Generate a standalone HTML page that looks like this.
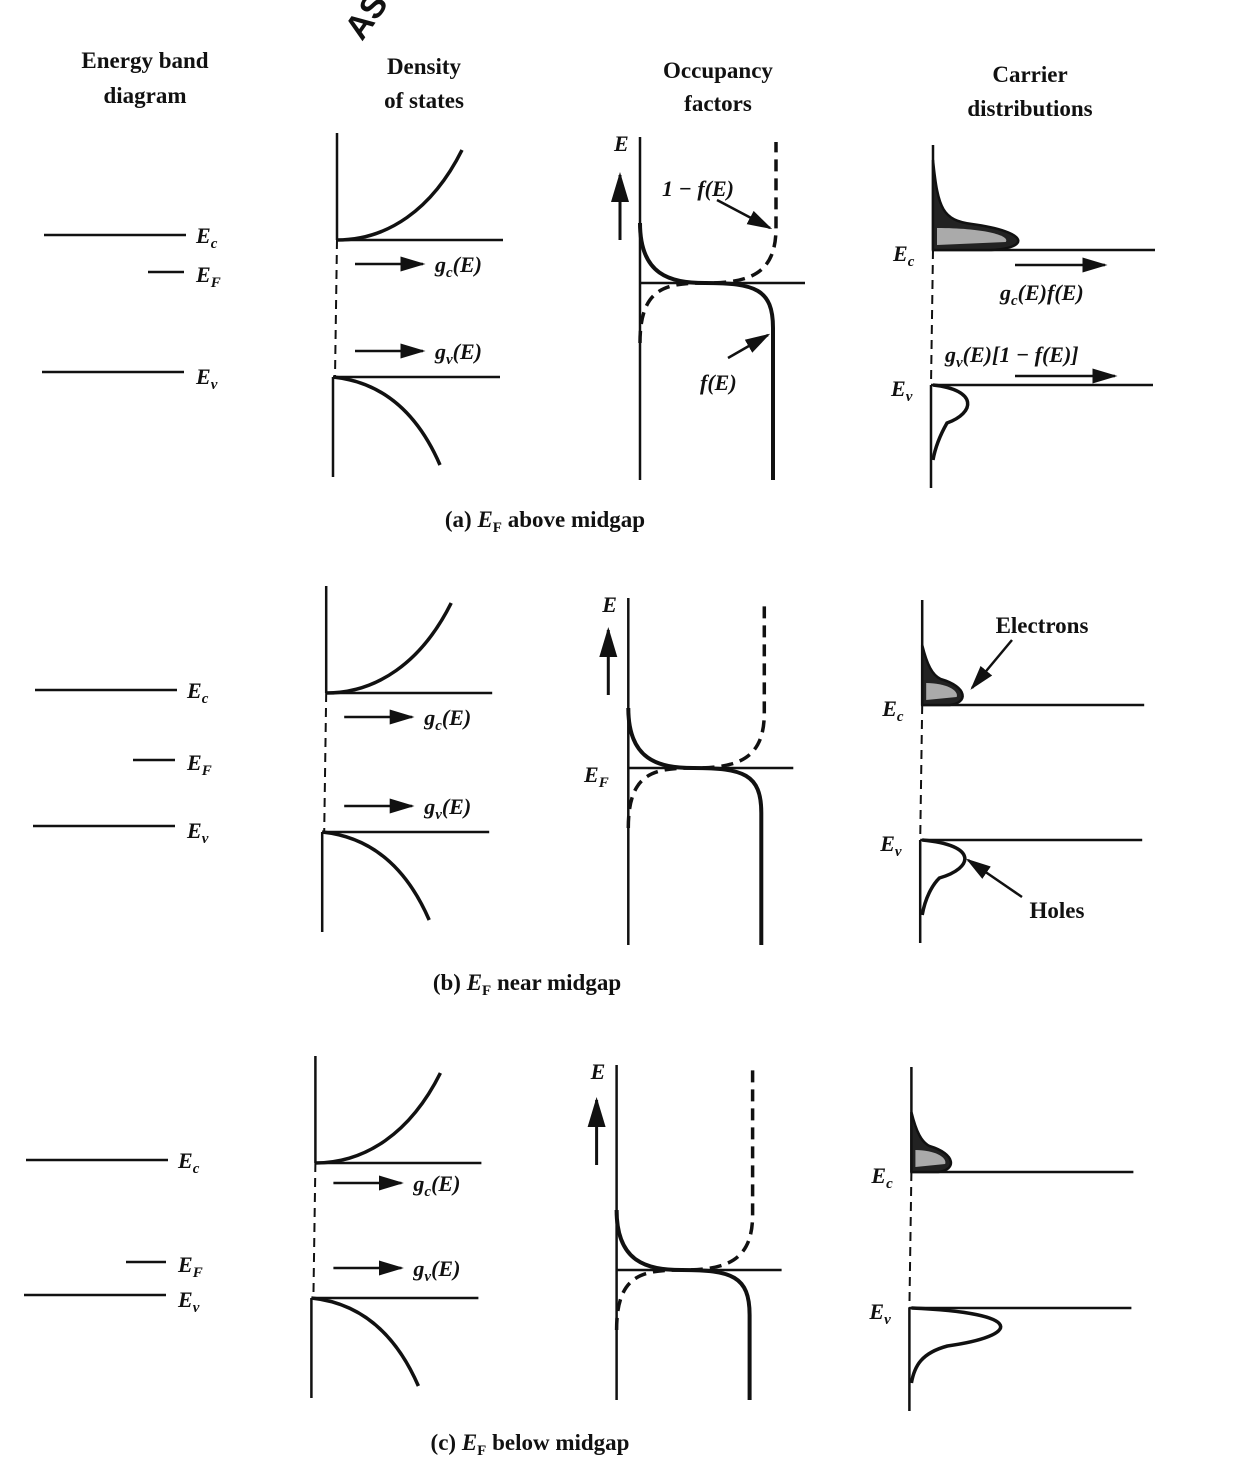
<!DOCTYPE html>
<html><head><meta charset="utf-8"><style>
html,body{margin:0;padding:0;background:#fff;}
svg{display:block;}
text{font-family:"Liberation Serif",serif;fill:#111;}
.h{font-size:23px;text-anchor:middle;font-weight:bold;}
.lb{font-size:22px;font-style:italic;font-weight:bold;}
.cap{font-size:23px;text-anchor:middle;font-weight:bold;}
</style></head><body>
<svg id="fig" width="1260" height="1474" viewBox="0 0 1260 1474" xmlns="http://www.w3.org/2000/svg">
<defs><marker id="ah" markerWidth="10" markerHeight="8" refX="9" refY="4" orient="auto"><path d="M0,1 L10,4 L0,7 Z" fill="#111"/></marker></defs>
<text x="0" y="0" transform="translate(362,42) rotate(-55)" style="font-size:34px;font-family:'Liberation Sans',sans-serif;font-weight:bold">AS</text>
<text class="h" x="145" y="68">Energy band</text>
<text class="h" x="145" y="103">diagram</text>
<text class="h" x="424" y="74">Density</text>
<text class="h" x="424" y="108">of states</text>
<text class="h" x="718" y="78">Occupancy</text>
<text class="h" x="718" y="111">factors</text>
<text class="h" x="1030" y="82">Carrier</text>
<text class="h" x="1030" y="116">distributions</text>
<g id="panels"></g>
</svg>
<script>
// panel data: vertical positions of levels (pixel y) for each panel
const panelNames = ["a","b","c"];
const captions = ["(a) E_F above midgap","(b) E_F near midgap","(c) E_F below midgap"];
const bandEc = [235,690,1160];
const bandEF = [272,760,1262];
const bandEv = [372,826,1295];
const dosEc = [240,693,1163];
const dosEv = [377,832,1298];
const occEF = [283,768,1270];
const occTop = [137,598,1065];
const occBottom = [480,945,1400];
const carEc = [250,705,1172];
const carEv = [385,840,1308];
const elecPeak = [97,46,45];   // electron distribution width
const holePeak = [35,43,90];   // hole distribution width
const NS="http://www.w3.org/2000/svg";
const G=document.getElementById('panels');
function el(tag,attrs,parent){const e=document.createElementNS(NS,tag);for(const k in attrs)e.setAttribute(k,attrs[k]);(parent||G).appendChild(e);return e;}
function line(x1,y1,x2,y2,w,dash,p){const e=el('line',{x1,y1,x2,y2,stroke:'#111','stroke-width':w||2.5},p);if(dash)e.setAttribute('stroke-dasharray',dash);return e;}
function path(d,w,fill,dash,p){const e=el('path',{d,stroke:'#111','stroke-width':w||3,fill:fill||'none'},p);if(dash)e.setAttribute('stroke-dasharray',dash);return e;}
function label(x,y,main,sub,p,extra){const t=el('text',{x,y,class:'lb'},p);t.appendChild(document.createTextNode(main));if(sub){const s=el('tspan',{'font-size':'15','dy':'5'},t);s.textContent=sub;if(extra){const s2=el('tspan',{'dy':'-5'},t);s2.textContent=extra;}}return t;}
const dx=[0,-9,-18];
panelNames.forEach((nm,i)=>{
  const g=el('g',{});
  const o=dx[i];
  // band diagram
  line(44+o,bandEc[i],186+o,bandEc[i],2.5,null,g);
  line(148+o+(i==1?-6:i==2?-4:0),bandEF[i],184+o,bandEF[i],2.5,null,g);
  line(42+o,bandEv[i],184+o,bandEv[i],2.5,null,g);
  label(196+o,bandEc[i]+8,'E','c',g);
  label(196+o,bandEF[i]+10,'E','F',g);
  label(196+o,bandEv[i]+12,'E','v',g);
  // density of states
  const ax=337+o*1.2, ec=dosEc[i], ev=dosEv[i];
  line(ax,ec-107,ax,ec,2.5,null,g);
  line(ax,ec,ax-2,ev,2,'9,6',g);
  line(ax-4,ev,ax-4,ev+100,2.5,null,g);
  line(ax,ec,ax+166,ec,2.5,null,g);
  path(`M${ax},${ec} C${ax+50},${ec} ${ax+95},${ec-30} ${ax+125},${ec-90}`,3.5,null,null,g);
  line(ax-4,ev,ax+163,ev,2.5,null,g);
  path(`M${ax-4},${ev} C${ax+45},${ev+5} ${ax+80},${ev+35} ${ax+103},${ev+88}`,3.5,null,null,g);
  const ya=ec+(i==2?20:24), yb=ev-(i==2?30:26);
  el('line',{x1:ax+18,y1:ya,x2:ax+86,y2:ya,stroke:'#111','stroke-width':2.5,'marker-end':'url(#ah)'},g);
  el('line',{x1:ax+18,y1:yb,x2:ax+86,y2:yb,stroke:'#111','stroke-width':2.5,'marker-end':'url(#ah)'},g);
  label(ax+98,ya+8,'g','c',g,'(E)');
  label(ax+98,yb+8,'g','v',g,'(E)');
  // occupancy
  const oa=640+o*1.3, ef=occEF[i], rx=oa+133, top=occTop[i], bot=occBottom[i];
  line(oa,top,oa,bot,2.5,null,g);
  const arrBase=[ef-43,ef-73,ef-105][i];
  label(oa-26,top+14,'E',null,g);
  el('line',{x1:oa-20,y1:arrBase,x2:oa-20,y2:arrBase-65,stroke:'#111','stroke-width':3,'marker-end':'url(#ah)'},g);
  line(oa,ef,oa+165,ef,2.5,null,g);
  path(`M${oa},${ef-60} C${oa},${ef-8} ${oa+30},${ef} ${oa+65},${ef} C${rx-18},${ef} ${rx},${ef+6} ${rx},${ef+45} L${rx},${bot}`,4,null,null,g);
  path(`M${oa},${ef+60} C${oa},${ef+5} ${oa+25},${ef} ${oa+65},${ef} C${rx-25},${ef} ${rx+3},${ef-8} ${rx+3},${ef-55} L${rx+3},${top+5}`,3.5,null,'12,7',g);
  if(i==0){
    label(662,196,'1 − f(E)',null,g);
    el('line',{x1:717,y1:200,x2:770,y2:228,stroke:'#111','stroke-width':2.5,'marker-end':'url(#ah)'},g);
    label(700,390,'f(E)',null,g);
    el('line',{x1:728,y1:358,x2:768,y2:335,stroke:'#111','stroke-width':2.5,'marker-end':'url(#ah)'},g);
  }
  if(i==1) label(584,782,'E','F',g);
  // carrier distribution
  const ca=933+o*1.2, ce=carEc[i], cv=carEv[i];
  line(ca,ce-105,ca,ce,2.5,null,g);
  line(ca,ce,ca-2,cv,2,'9,6',g);
  line(ca-2,cv,ca-2,cv+103,2.5,null,g);
  line(ca,ce,ca+222,ce,2.5,null,g);
  line(ca-2,cv,ca+220,cv,2.5,null,g);
  const ew=elecPeak[i];
  path(`M${ca},${ce-(i==0?90:60)} C${ca+5},${ce-40} ${ca+10},${ce-30} ${ca+ew*0.4},${ce-26} C${ca+ew},${ce-18} ${ca+ew},${ce-2} ${ca+ew*0.6},${ce} L${ca},${ce} Z`,2.5,'#222',null,g);
  el('path',{d:`M${ca+4},${ce-22} C${ca+ew*0.5},${ce-22} ${ca+ew*0.8},${ce-15} ${ca+ew*0.75},${ce-8} L${ca+4},${ce-5} Z`,fill:'#aaa'},g);
  const hw=holePeak[i];
  path(`M${ca},${cv} C${ca+hw*1.3},${cv+5} ${ca+hw*1.2},${cv+28} ${ca+hw*0.4},${cv+38} C${ca+10},${cv+45} ${ca+3},${cv+58} ${ca},${cv+75}`,3.5,null,null,g);
  label(ca-40,ce+11,'E','c',g);
  label(ca-42,cv+11,'E','v',g);
  if(i==0){
    el('line',{x1:1015,y1:265,x2:1105,y2:265,stroke:'#111','stroke-width':2.5,'marker-end':'url(#ah)'},g);
    label(1000,300,'g','c',g,'(E)f(E)');
    label(945,362,'g','v',g,'(E)[1 − f(E)]');
    el('line',{x1:1015,y1:376,x2:1115,y2:376,stroke:'#111','stroke-width':2.5,'marker-end':'url(#ah)'},g);
  }
  if(i==1){
    const t=el('text',{x:1042,y:633,class:'h','font-size':'22'},g);t.textContent='Electrons';
    el('line',{x1:1012,y1:640,x2:972,y2:688,stroke:'#111','stroke-width':2.5,'marker-end':'url(#ah)'},g);
    const t2=el('text',{x:1057,y:918,class:'h','font-size':'22'},g);t2.textContent='Holes';
    el('line',{x1:1022,y1:897,x2:968,y2:860,stroke:'#111','stroke-width':2.5,'marker-end':'url(#ah)'},g);
  }
  // caption
  const cy=[527,990,1450][i], cx=[545,527,530][i];
  const c=el('text',{x:cx,y:cy,class:'cap'},g);
  const parts=captions[i].split('E_F');
  c.appendChild(document.createTextNode(parts[0]));
  const e1=el('tspan',{'font-style':'italic'},c);e1.textContent='E';
  const e2=el('tspan',{'font-size':'15','dy':'5'},c);e2.textContent='F';
  const e3=el('tspan',{'dy':'-5'},c);e3.textContent=parts[1];
});
</script>
</body></html>
